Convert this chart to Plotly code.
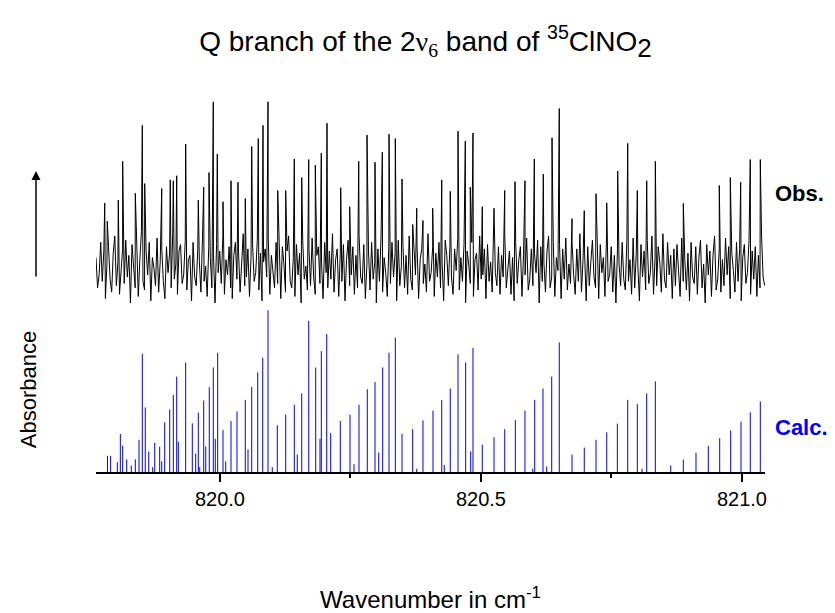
import plotly.graph_objects as go

# ---------------- data ----------------
# Calculated stick spectrum: positions (cm-1) and relative intensities (tallest = 100)
calc_wn = [819.7845, 819.7905, 819.8033, 819.8091, 819.8136, 819.8213, 819.8301, 819.8378, 819.8449, 819.8512,
           819.8569, 819.8635, 819.8711, 819.8750, 819.8845, 819.8884, 819.8941, 819.9037, 819.9106, 819.9171,
           819.9202, 819.9343, 819.9470, 819.9535, 819.9585, 819.9612, 819.9688, 819.9727, 819.9795, 819.9872,
           819.9910, 819.9956, 820.0058, 820.0110, 820.0211, 820.0326, 820.0485, 820.0537, 820.0608, 820.0723,
           820.0819, 820.0920, 820.1002, 820.1098, 820.1259, 820.1424, 820.1481, 820.1566, 820.1700, 820.1834,
           820.1916, 820.1941, 820.2045, 820.2121, 820.2305, 820.2491, 820.2568, 820.2663, 820.2822, 820.2970,
           820.3041, 820.3117, 820.3238, 820.3359, 820.3487, 820.3692, 820.3769, 820.3889, 820.4081, 820.4248,
           820.4297, 820.4412, 820.4560, 820.4707, 820.4803, 820.4847, 820.5025, 820.5250, 820.5455, 820.5658,
           820.5843, 820.5991, 820.6029, 820.6188, 820.6259, 820.6355, 820.6500, 820.6744, 820.6979, 820.7204,
           820.7409, 820.7612, 820.7811, 820.7995, 820.8085, 820.8175, 820.8340, 820.8635, 820.8876, 820.9119,
           820.9355, 820.9573, 820.9784, 820.9981, 821.0159, 821.0351]
calc_int = [10, 10, 6, 23.5, 16.3, 7.8, 4, 7.8, 19.9, 73.1,
            39.9, 12.7, 3, 18.1, 15.7, 6.6, 30.7, 38.6, 47.6, 59.0,
            18.7, 67.7, 30.1, 11.4, 36.7, 3, 44.2, 15.8, 52.4, 64.6,
            20.5, 73.7, 25.9, 6.6, 31.5, 37.5, 44.6, 14.0, 52.6, 61.6,
            70.7, 100, 3.0, 28.9, 35.5, 41.6, 10.8, 48.6, 93.4, 64.6,
            20.5, 74.7, 85.4, 24.1, 31.5, 35.5, 4.8, 41.6, 51.2, 55.6,
            12.0, 64.6, 73.7, 83.1, 23.5, 26.5, 2, 31.9, 38.0, 44.6,
            4.4, 51.6, 72.7, 67.7, 12.8, 76.7, 16.9, 21.5, 26.5, 32.1,
            38.0, 2, 44.6, 51.6, 3.4, 59.0, 80.1, 10.8, 15.1, 19.9,
            24.5, 29.9, 44.6, 42.0, 2, 48.6, 56.0, 4.0, 7.7, 11.9,
            16.1, 20.9, 25.7, 31.1, 36.9, 43.6]

# Observed spectrum: absorption peaks (position, height above noise level, obs units)
obs_peak_wn = [819.7792, 819.7841, 819.8052, 819.8136, 819.8378, 819.8512, 819.8558, 819.8884, 819.9048, 819.9106,
               819.9171, 819.9343, 819.9585, 819.9688, 819.9790, 819.9872, 819.9949, 820.0058, 820.0211, 820.0345,
               820.0485, 820.0608, 820.0734, 820.0824, 820.0920, 820.1106, 820.1259, 820.1424, 820.1566, 820.1700,
               820.1826, 820.1941, 820.2050, 820.2313, 820.2485, 820.2658, 820.2817, 820.2970, 820.3110, 820.3238,
               820.3359, 820.3487, 820.3692, 820.3769, 820.3889, 820.4075, 820.4248, 820.4412, 820.4560, 820.4700,
               820.4795, 820.4847, 820.5025, 820.5250, 820.5455, 820.5652, 820.5843, 820.6022, 820.6194, 820.6361,
               820.6500, 820.6744, 820.6979, 820.7204, 820.7409, 820.7619, 820.7811, 820.7995, 820.8175, 820.8340,
               820.8876, 820.9565, 820.9776, 820.9975, 821.0159, 821.0351]
obs_peak_h = [30.2, 21.8, 31.5, 49.5, 34.7, 66.1, 39.2, 36.9, 40.9, 40.5,
              42.8, 57.5, 31.5, 37.5, 44.3, 77.0, 52.8, 30.8, 40.5, 39.8,
              32.3, 56.3, 60.0, 66.1, 77.0, 36.0, 36.0, 50.6, 42.0, 50.3,
              47.7, 53.3, 67.1, 37.3, 28.5, 49.5, 61.6, 49.1, 53.7, 62.0,
              60.0, 41.3, 20.3, 27.8, 22.1, 27.8, 40.9, 35.6, 63.4, 58.9,
              37.5, 62.6, 28.5, 27.8, 36.0, 40.1, 40.5, 50.6, 43.6, 60.4,
              73.9, 23.0, 26.7, 34.5, 30.3, 45.0, 57.8, 36.0, 40.5, 49.5,
              30.0, 38.3, 42.0, 39.8, 50.3, 50.3]

# Observed spectrum: noise samples (obs units), starting at obs_start, spaced obs_step
obs_start = 819.7625
obs_step = 0.003
obs_noise = [5, -9, -3, 12, -6, 8, -14, 2, 10, -5, -11, 7, 15, -8, 3, -12, -2, 9, -7, 13,
             -4, 6, -16, 11, 1, -9, 7, -13, 4, 17, -6, -10, 8, -3, 12, -15, 5, 0, -8, 14,
             -11, 3, 9, -6, -14, 10, -2, 7, -9, 16, -5, 2, -12, 8, 11, -7, -3, 13, -10, 4,
             6, -15, 12, -4, -8, 9, 3, -11, 14, -6, 1, -13, 10, 5, -9, 7, -16, 11, -2, 8,
             -7, 15, -12, 4, -3, 10, -9, -14, 6, 12, -5, 8, -11, 2, 16, -8, -4, 9, -13, 5,
             11, -6, -2, 13, -10, 7, -15, 3, 9, -4, 14, -12, 6, -1, -9, 12, -7, 4, -14, 10,
             2, -11, 8, 15, -6, -9, 5, -13, 11, -3, 7, -16, 13, -5, 1, -10, 9, -8, 14, -4,
             -12, 6, 10, -7, 3, -14, 12, -2, -9, 8, -5, 16, -11, 4, 9, -13, 7, -6, 11, -15,
             4, 13, -8, -3, 10, -12, 6, -9, 15, -4, -7, 11, -14, 2, 8, -10, 12, -5, 3, -16,
             9, -6, 14, -11, 5, -2, -13, 10, -7, 12, -4, 7, -15, 13, -8, 1, 11, -9, 6, -12,
             15, -5, -10, 8, -3, 11, -14, 4, 9, -7, 2, -11, 16, -6, -2, 10, -13, 7, -4, 12,
             -9, 3, -15, 13, 6, -8, 10, -4, -12, 9, -1, 14, -10, 5, -6, 11, -16, 8, 2, -7,
             12, -13, 4, 7, -10, 15, -5, -3, 9, -14, 11, -6, 3, -11, 13, -2, -8, 10, -12, 6,
             -4, 16, -9, 1, 8, -12, 5, -15, 12, -7, 4, 10, -13, 6, -3, 14, -10, -5, 9, -8,
             7, -2, 13, -16, 10, -6, 3, -11, 8, 15, -9, -4, 12, -13, 5, -1, 11, -14, 9, -5,
             14, -10, 2, -7, 12, -3, -12, 9, -6, 16, -11, 4, 7, -15, 10, -8, 3, 13, -4, -9,
             8, -14, 11, -2, 5, -13, 15, -6, -3, 10, -11, 6, -16, 9, 2, -8, 12, -5, -10, 13,
             -6, 4, -12, 14, -9, 7, 1, -15, 11, -4, 8, -10, 13, -7, -2, 15, -12, 5, -8, 10,
             3, -11, 16, -5, -9, 12, -3, 6, -14, 9, -8, 11, -1, -13, 14, -6, 4, -10, 7, -15,
             12, -4, -7, 10, -12, 5, 13, -9, 2, -16, 11, -3, 8, -13, 6, 15, -10, -5, 9, -11,
             4, -8, 14, -3, 10, -14, 7, -1, -11, 12, -6, 9, -15, 5, 11, -7, -2, 13, -12, 8,
             -5, 10, -13, 6, -9, 15, -4, -8]

tick_vals = [820.0, 820.5, 821.0]
tick_text = ["820.0", "820.5", "821.0"]

# ---------------- styling / layout constants ----------------
X_RANGE = [819.7625, 821.0441]
Y_RANGE = [0, 234.3]
OBS_OFFSET = 125.9   # vertical offset of the observed trace
OBS_SCALE = 1.337    # display scale of the observed trace
FONT = "Liberation Sans, Arial, sans-serif"

# stick spectrum as one trace with gaps
cx, cy = [], []
for w, h in zip(calc_wn, calc_int):
    cx += [w, w, None]
    cy += [0, h, None]

# observed trace: noise samples merged with peak vertices
pts = [(obs_start + i * obs_step, OBS_OFFSET + OBS_SCALE * v) for i, v in enumerate(obs_noise)]
pts += [(w, OBS_OFFSET + OBS_SCALE * h) for w, h in zip(obs_peak_wn, obs_peak_h)]
pts.sort(key=lambda p: p[0])
ox = [p[0] for p in pts]
oy = [p[1] for p in pts]

fig = go.Figure()
fig.add_trace(go.Scatter(x=ox, y=oy, mode="lines", line=dict(color="black", width=1),
                         hoverinfo="skip", showlegend=False))
fig.add_trace(go.Scatter(x=cx, y=cy, mode="lines", line=dict(color="#0000ff", width=1),
                         hoverinfo="skip", showlegend=False, connectgaps=False))

L, R, T, B = 88, 78, 85, 139
W, H = 835, 613
pw, ph = W - L - R, H - T - B


def px_x(x):
    return (x - L) / pw


def px_y(y):
    return (H - B - y) / ph


fig.update_layout(
    width=W, height=H,
    margin=dict(l=L, r=R, t=T, b=B),
    paper_bgcolor="white", plot_bgcolor="white",
    font=dict(family=FONT, color="black"),
    title=dict(
        text="Q branch of the 2<span style=\"font-family:'Liberation Serif', serif\">ν<sub>6</sub></span>"
             " band of <sup>35</sup>ClNO<sub><span style=\"font-size:26px\">2</span></sub>",
        x=0.5, xanchor="center", y=1 - 33 / H, yanchor="middle", yref="container",
        font=dict(size=28, family=FONT, color="black")),
    xaxis=dict(range=X_RANGE, tickvals=tick_vals, ticktext=tick_text,
               ticks="outside", ticklen=8, tickwidth=1.5, tickcolor="black",
               minor=dict(dtick=0.25, tick0=820.0, ticks="outside", ticklen=4, tickwidth=1.5, tickcolor="black"),
               showline=True, linecolor="black", linewidth=2, showgrid=False, zeroline=False,
               tickfont=dict(size=20, family=FONT, color="black"),
               title=dict(text="Wavenumber in cm<sup>-1</sup>", font=dict(size=24, family=FONT, color="black"),
                          standoff=82)),
    yaxis=dict(range=Y_RANGE, visible=False, showgrid=False, zeroline=False),
    annotations=[
        dict(text="<b>Obs.</b>", xref="paper", yref="paper", x=px_x(765), y=px_y(188),
             xanchor="left", yanchor="middle", showarrow=False,
             font=dict(size=22, family=FONT, color="black")),
        dict(text="<b>Calc.</b>", xref="paper", yref="paper", x=px_x(765), y=px_y(428),
             xanchor="left", yanchor="middle", showarrow=False,
             font=dict(size=22, family=FONT, color="#0000ff")),
        dict(text="Absorbance", xref="paper", yref="paper", x=px_x(20), y=px_y(390),
             xanchor="center", yanchor="middle", textangle=-90, showarrow=False,
             font=dict(size=22, family=FONT, color="black")),
        dict(text="", xref="paper", yref="paper", x=px_x(28), y=px_y(165),
             ax=0, ay=107, showarrow=True, arrowhead=2, arrowsize=1.2, arrowwidth=1.5,
             arrowcolor="black"),
    ],
)

fig.write_html("out.html")
